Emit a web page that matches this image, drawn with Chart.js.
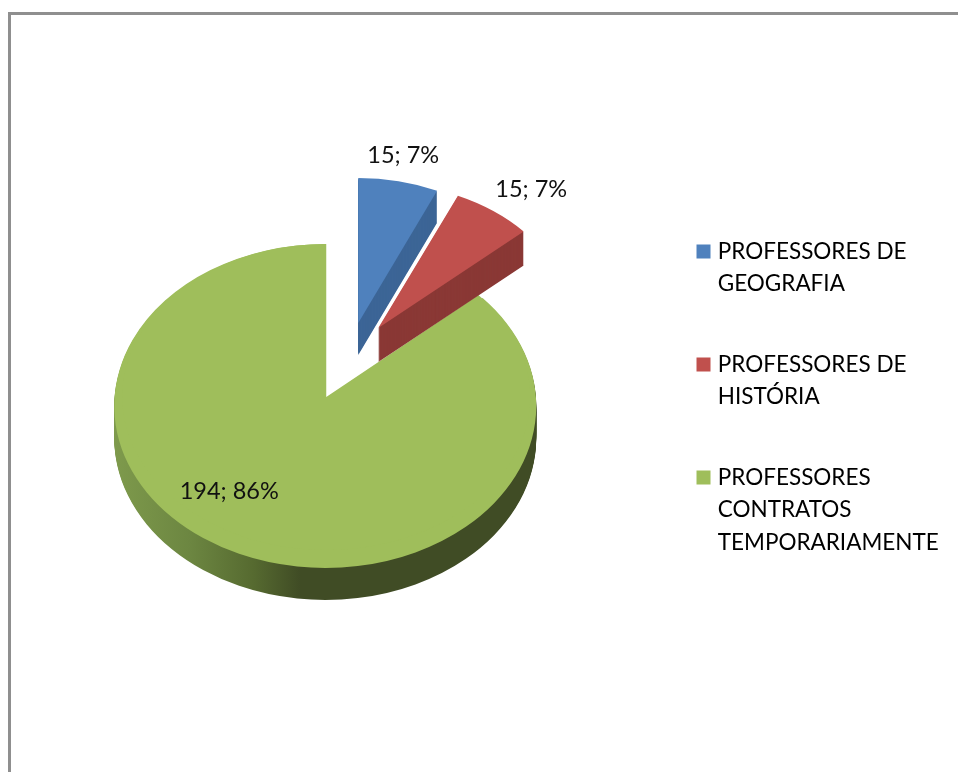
<!DOCTYPE html>
<html>
<head>
<meta charset="utf-8">
<title>Professores</title>
<script src="https://cdn.jsdelivr.net/npm/chart.js@4"></script>
<style>
  html, body { margin: 0; padding: 0; background: #fff; overflow: hidden; }
  #wrap { position: relative; width: 958px; height: 772px; overflow: hidden; }
  #frame { position: absolute; left: 8px; top: 12px; width: 980px; height: 800px; border: 3px solid #8f8f8f; box-sizing: border-box; }
  #chart { position: absolute; left: 0; top: 0; }
</style>
</head>
<body>
<div id="wrap">
  <div id="frame"></div>
  <canvas id="chart" width="958" height="772"></canvas>
</div>
<script>
// Data
const categories = [
  ['PROFESSORES DE', 'GEOGRAFIA'],
  ['PROFESSORES DE', 'HISTÓRIA'],
  ['PROFESSORES', 'CONTRATOS', 'TEMPORARIAMENTE']
];
const values = [15, 15, 194];
const percents = [7, 7, 86];

// Colours
const topColors = ['#4F81BD', '#C0504D', '#9FBE5B'];
const sideColors = ['#3C6596', '#8A3835', '#404C25'];

// Fake 3D: how each slice sits on the flat pie
const RADIUS = 211;
const FONT_SIZE = 22.5;
const LABEL_FONT_SIZE = 23.5;
const sliceLayout = [
  { dx: 32, dy: -79, rx: 193, ry: 145, depth: 32 },
  { dx: 52, dy: -74, rx: 195, ry: 145, depth: 34 },
  { dx: -1, dy: 4, rx: 211, ry: 162, depth: 32 }
];
// the notch of the big slice sits higher than the ellipse centre
const notchLayout = { dx: 0, dy: -5, rx: 204, ry: 153 };
const labelOffsets = [
  { dx: 77, dy: -247 },
  { dx: 205, dy: -213 },
  { dx: -97, dy: 89 }
];

function withColor(arc, color, fn) {
  const saved = arc.options;
  arc.options = Object.assign({}, saved, { backgroundColor: color });
  fn();
  arc.options = saved;
}

function drawSlice(ctx, arc, layout, shift) {
  ctx.save();
  ctx.translate(arc.x + layout.dx, arc.y + layout.dy + shift);
  ctx.scale(layout.rx / RADIUS, layout.ry / RADIUS);
  ctx.translate(-arc.x, -arc.y);
  arc.draw(ctx);
  ctx.restore();
}

function drawLabels(ctx, arc) {
  ctx.save();
  ctx.font = LABEL_FONT_SIZE + 'px Lato';
  ctx.fillStyle = '#111';
  ctx.textAlign = 'center';
  ctx.textBaseline = 'middle';
  values.forEach((v, i) => {
    ctx.fillText(v + '; ' + percents[i] + '%', arc.x + labelOffsets[i].dx, arc.y + labelOffsets[i].dy);
  });
  ctx.restore();
}

// Replaces the flat drawing of the pie: side walls first, then top faces
const pie3d = {
  id: 'pie3d',
  beforeDatasetsDraw(chart) {
    const ctx = chart.ctx;
    const arcs = chart.getDatasetMeta(0).data;

    // green wall shading runs along the x axis of the slice
    const big = arcs[2];
    const wall = ctx.createLinearGradient(big.x - RADIUS, 0, big.x + RADIUS, 0);
    wall.addColorStop(0, '#7E9A4C');
    wall.addColorStop(0.18, '#6C8641');
    wall.addColorStop(0.33, '#566A30');
    wall.addColorStop(0.44, '#404C25');
    wall.addColorStop(1, '#404C25');

    // big slice goes first, the exploded ones lie over it
    [2, 1, 0].forEach(i => {
      const arc = arcs[i];
      const layout = sliceLayout[i];
      withColor(arc, i === 2 ? wall : sideColors[i], () => {
        for (let d = layout.depth; d > 0; d--) drawSlice(ctx, arc, layout, d);
      });
      withColor(arc, topColors[i], () => {
        drawSlice(ctx, arc, layout, 0);
        if (i === 2) drawSlice(ctx, arc, notchLayout, 0);
      });
    });
    drawLabels(ctx, arcs[0]);
    return false;
  }
};

new Chart(document.getElementById('chart'), {
  type: 'pie',
  data: {
    labels: categories,
    datasets: [{ data: values, backgroundColor: topColors, borderWidth: 0 }]
  },
  options: {
    responsive: false,
    animation: false,
    radius: RADIUS,
    layout: { padding: { left: -1.75, top: 32, right: 9.25, bottom: 0 } },
    plugins: {
      tooltip: { enabled: false },
      legend: {
        position: 'right',
        labels: {
          boxWidth: 6,
          boxHeight: 6,
          padding: 48,
          color: '#111',
          font: { family: 'Lato', size: FONT_SIZE, lineHeight: 32.5 / FONT_SIZE },
          generateLabels(chart) {
            return categories.map((text, i) => ({
              text: text,
              index: i,
              fillStyle: topColors[i],
              strokeStyle: topColors[i],
              lineWidth: 8
            }));
          }
        }
      }
    }
  },
  plugins: [pie3d]
});
</script>
</body>
</html>
